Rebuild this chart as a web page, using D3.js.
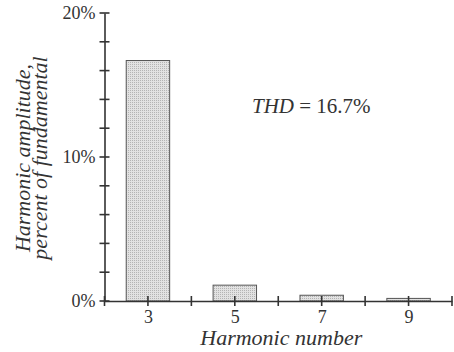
<!DOCTYPE html>
<html><head><meta charset="utf-8">
<script src="https://cdn.jsdelivr.net/npm/d3@7"></script>
<style>
body{margin:0;background:#fff}
svg{display:block}
</style>
</head><body>
<svg id="c" width="454" height="352"></svg>
<script>
const harmonics = [3, 5, 7, 9];
const amplitudes = [16.7, 1.1, 0.4, 0.18];
const yTicks = [0, 2, 4, 6, 8, 10, 12, 14, 16, 18, 20];
const yLabels = [0, 10, 20];
const xTicks = [2, 3, 4, 5, 6, 7, 8, 9, 10];
const xLabels = [3, 5, 7, 9];
const thdText = "16.7%";

const svg = d3.select("#c");
const x = d3.scaleLinear().domain([2, 10]).range([104.5, 452]);
const y = d3.scaleLinear().domain([0, 20]).range([301, 13]);
const axisCol = "#333";
const serif = "font-family:'Liberation Serif','Times New Roman',Times,'DejaVu Serif',serif;fill:#333;";

const defs = svg.append("defs");
const pat = defs.append("pattern").attr("id", "dots").attr("width", 2).attr("height", 2)
  .attr("patternUnits", "userSpaceOnUse");
pat.append("rect").attr("width", 2).attr("height", 2).attr("fill", "#e2e2e2");
pat.append("rect").attr("width", 1).attr("height", 1).attr("fill", "#b4b4b4");

// bars
svg.selectAll("rect.bar").data(harmonics).enter().append("rect")
  .attr("class", "bar")
  .attr("x", d => x(d - 0.5))
  .attr("width", d => x(d + 0.5) - x(d - 0.5))
  .attr("y", (d, i) => y(amplitudes[i]))
  .attr("height", (d, i) => y(0) - y(amplitudes[i]))
  .attr("fill", "url(#dots)")
  .attr("stroke", "#555").attr("stroke-width", 1);

// y axis
const gy = svg.append("g").attr("transform", `translate(${x(2)},0)`)
  .call(d3.axisLeft(y).tickValues(yTicks).tickSize(0).tickPadding(9)
    .tickFormat(d => yLabels.includes(d) ? d + "%" : ""));
gy.select(".domain").attr("stroke", axisCol).attr("stroke-width", 1.6);
gy.selectAll(".tick text").attr("style", serif + "font-size:18px;");

// x axis
const gx = svg.append("g").attr("transform", `translate(0,${y(0)})`)
  .call(d3.axisBottom(x).tickValues(xTicks).tickSize(0).tickPadding(9)
    .tickFormat(d => xLabels.includes(d) ? String(d) : ""));
gx.select(".domain").attr("stroke", axisCol).attr("stroke-width", 1.6);
gx.selectAll(".tick text").attr("style", serif + "font-size:18px;");

// crossing tick marks
svg.append("g").selectAll("line").data(yTicks).enter().append("line")
  .attr("x1", x(2) - 5).attr("x2", x(2) + 5)
  .attr("y1", d => y(d)).attr("y2", d => y(d))
  .attr("stroke", axisCol).attr("stroke-width", 1.6);
svg.append("g").selectAll("line").data(xTicks).enter().append("line")
  .attr("x1", d => x(d)).attr("x2", d => x(d))
  .attr("y1", y(0) - 5).attr("y2", y(0) + 5)
  .attr("stroke", axisCol).attr("stroke-width", 1.6);

// x title
svg.append("text").attr("x", x(6) + 3).attr("y", 345).attr("text-anchor", "middle")
  .attr("style", serif + "font-style:italic;font-size:22px;")
  .text("Harmonic number");

// y title
const yt = svg.append("text").attr("transform", "translate(0,158) rotate(-90)")
  .attr("text-anchor", "middle").attr("style", serif + "font-style:italic;font-size:22px;");
yt.append("tspan").attr("x", 0).attr("y", 30).text("Harmonic amplitude,");
yt.append("tspan").attr("x", 0).attr("y", 47).text("percent of fundamental");

// THD annotation
const t = svg.append("text").attr("x", 252).attr("y", 113).attr("style", serif + "font-size:21px;");
t.append("tspan").attr("font-style", "italic").text("THD");
t.append("tspan").text(" = " + thdText);
</script>
</body></html>
